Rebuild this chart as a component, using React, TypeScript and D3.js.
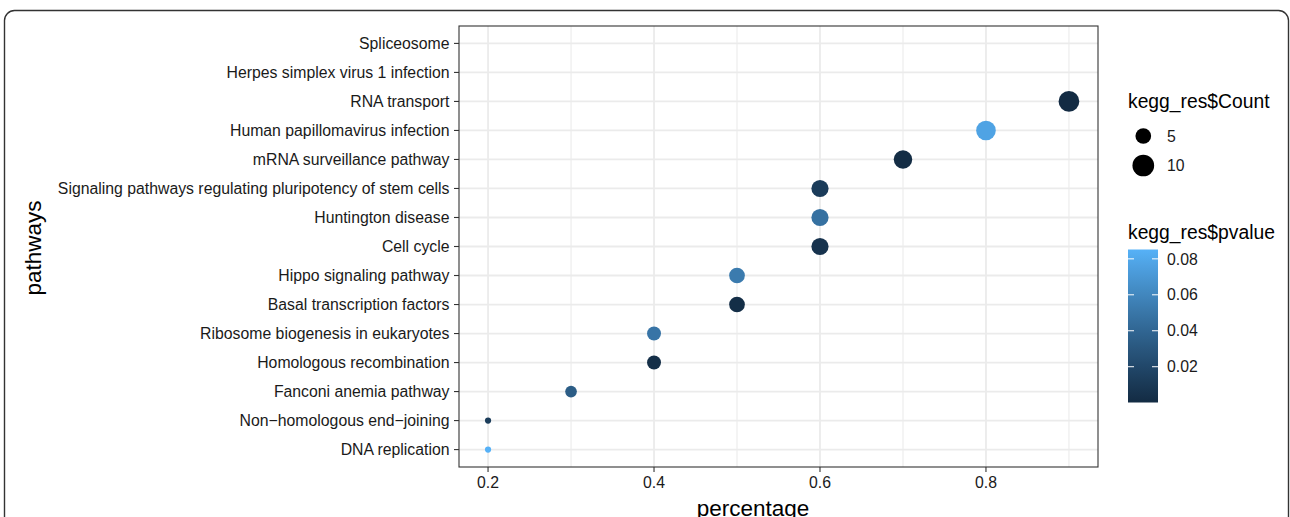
import React from 'react';
import * as d3 from 'd3';

// pathways, top to bottom as drawn on the y axis
const pathways = [
  'Spliceosome',
  'Herpes simplex virus 1 infection',
  'RNA transport',
  'Human papillomavirus infection',
  'mRNA surveillance pathway',
  'Signaling pathways regulating pluripotency of stem cells',
  'Huntington disease',
  'Cell cycle',
  'Hippo signaling pathway',
  'Basal transcription factors',
  'Ribosome biogenesis in eukaryotes',
  'Homologous recombination',
  'Fanconi anemia pathway',
  'Non\u2212homologous end\u2212joining',
  'DNA replication',
];
// null = no point drawn
const percentage = [null, null, 0.9, 0.8, 0.7, 0.6, 0.6, 0.6, 0.5, 0.5, 0.4, 0.4, 0.3, 0.2, 0.2];
const counts = [null, null, 9, 8, 7, 6, 6, 6, 5, 5, 4, 4, 3, 2, 2];
const pvalues = [null, null, 0.0001, 0.077, 0.0012, 0.012, 0.047, 0.006, 0.053, 0.002, 0.049, 0.003, 0.034, 0.013, 0.0852];

const xTicks = [0.2, 0.4, 0.6, 0.8];
const xMinor = [0.3, 0.5, 0.7, 0.9];
const sizeLimits = [2, 10];
const sizeBreaks = [5, 10];
const pBreaks = [0.02, 0.04, 0.06, 0.08];

const W = 1290;
const H = 517;
const FONT = '"Liberation Sans", Arial, Helvetica, sans-serif';
const panel = { left: 459, right: 1098, top: 26, bottom: 467 };
const TICK_FS = 15.8;
const LEG_TITLE_FS = 19.3;
const AXIS_TITLE_FS = 22.5;

const App = () => {
  const xs = percentage.filter(v => v != null) as number[];
  const [xmin, xmax] = d3.extent(xs) as [number, number];
  const xpad = (xmax - xmin) * 0.05;
  const x = d3.scaleLinear().domain([xmin - xpad, xmax + xpad]).range([panel.left, panel.right]);

  const y = d3.scalePoint<string>().domain(pathways).range([panel.top, panel.bottom]).padding(0.6);

  const ps = pvalues.filter(v => v != null) as number[];
  const pExt = d3.extent(ps) as [number, number];
  const color = d3.scaleLinear<string>().domain(pExt).range(['#132B43', '#56B1F7']).interpolate(d3.interpolateLab);

  // ggplot-like area scale: size = 1..6, diameter in px
  const sizeT = d3.scaleLinear().domain(sizeLimits).range([0, 1]).clamp(true);
  const sizeMm = d3.scaleLinear().domain([0, 1]).range([1, 6]);
  const radius = (c: number) => (3.1 + 3.1 * sizeMm(Math.sqrt(sizeT(c)))) / 2;

  const points = pathways
    .map((p, i) => ({ p, x: percentage[i], c: counts[i], pv: pvalues[i] }))
    .filter(d => d.x != null);

  // colour bar
  const bar = { x: 1128, w: 30, top: 249.5, bottom: 402.5 };
  const barY = d3.scaleLinear().domain(pExt).range([bar.bottom, bar.top]);
  const stops = d3.range(0, 1.0001, 0.05);

  const textCol = '#1a1a1a';

  return (
    <svg width={W} height={H} style={{ position: 'absolute', left: 0, top: 0 }} fontFamily={FONT}>
      <rect x={0} y={0} width={W} height={H} fill="#fff" />
      <rect x={4.5} y={10.5} width={1284} height={560} rx={10} fill="none" stroke="#333" strokeWidth={1.4} />

      {/* panel grid */}
      <g>
        {xMinor.map(t => (
          <line key={'mn' + t} x1={x(t)} x2={x(t)} y1={panel.top} y2={panel.bottom} stroke="#EBEBEB" strokeWidth={1.1} />
        ))}
        {xTicks.map(t => (
          <line key={'mj' + t} x1={x(t)} x2={x(t)} y1={panel.top} y2={panel.bottom} stroke="#EBEBEB" strokeWidth={1.8} />
        ))}
        {pathways.map(p => (
          <line key={'h' + p} x1={panel.left} x2={panel.right} y1={y(p)} y2={y(p)} stroke="#EBEBEB" strokeWidth={1.8} />
        ))}
      </g>

      {/* points */}
      {points.map(d => (
        <circle key={d.p} cx={x(d.x as number)} cy={y(d.p)} r={radius(d.c as number)} fill={color(d.pv as number)} />
      ))}

      <rect
        x={panel.left}
        y={panel.top}
        width={panel.right - panel.left}
        height={panel.bottom - panel.top}
        fill="none"
        stroke="#333"
        strokeWidth={1.1}
      />

      {/* y axis */}
      {pathways.map(p => (
        <g key={'yt' + p}>
          <line x1={panel.left - 5} x2={panel.left} y1={y(p)} y2={y(p)} stroke="#333" strokeWidth={1.1} />
          <text x={panel.left - 9.5} y={y(p)} dy="0.36em" textAnchor="end" fontSize={TICK_FS} fill={textCol}>
            {p}
          </text>
        </g>
      ))}

      {/* x axis */}
      {xTicks.map(t => (
        <g key={'xt' + t}>
          <line x1={x(t)} x2={x(t)} y1={panel.bottom} y2={panel.bottom + 5} stroke="#333" strokeWidth={1.1} />
          <text x={x(t)} y={panel.bottom + 21} textAnchor="middle" fontSize={TICK_FS} fill={textCol}>
            {d3.format('.1f')(t)}
          </text>
        </g>
      ))}

      <text x={753} y={515.5} textAnchor="middle" fontSize={AXIS_TITLE_FS} fill="#000">
        percentage
      </text>
      <text
        transform={`translate(40.5, 248) rotate(-90)`}
        textAnchor="middle"
        fontSize={AXIS_TITLE_FS}
        fill="#000"
      >
        pathways
      </text>

      {/* size legend */}
      <text x={1128} y={108} fontSize={LEG_TITLE_FS} fill="#000">
        kegg_res$Count
      </text>
      {sizeBreaks.map((b, i) => (
        <g key={'sb' + b}>
          <circle cx={1143.3} cy={136 + i * 29.5} r={radius(b)} fill="#000" />
          <text x={1167} y={136 + i * 29.5} dy="0.36em" fontSize={TICK_FS} fill={textCol}>
            {b}
          </text>
        </g>
      ))}

      {/* colour legend */}
      <text x={1128} y={238.5} fontSize={LEG_TITLE_FS} fill="#000">
        kegg_res$pvalue
      </text>
      <defs>
        <linearGradient id="pgrad" x1="0" x2="0" y1="1" y2="0">
          {stops.map(s => (
            <stop key={s} offset={s} stopColor={color(pExt[0] + s * (pExt[1] - pExt[0]))} />
          ))}
        </linearGradient>
      </defs>
      <rect x={bar.x} y={bar.top} width={bar.w} height={bar.bottom - bar.top} fill="url(#pgrad)" />
      {pBreaks.map(b => (
        <g key={'pb' + b}>
          <line x1={bar.x} x2={bar.x + 6} y1={barY(b)} y2={barY(b)} stroke="#fff" strokeWidth={1} />
          <line x1={bar.x + bar.w - 6} x2={bar.x + bar.w} y1={barY(b)} y2={barY(b)} stroke="#fff" strokeWidth={1} />
          <text x={1167} y={barY(b)} dy="0.36em" fontSize={TICK_FS} fill={textCol}>
            {d3.format('.2f')(b)}
          </text>
        </g>
      ))}
    </svg>
  );
};

export default App;
